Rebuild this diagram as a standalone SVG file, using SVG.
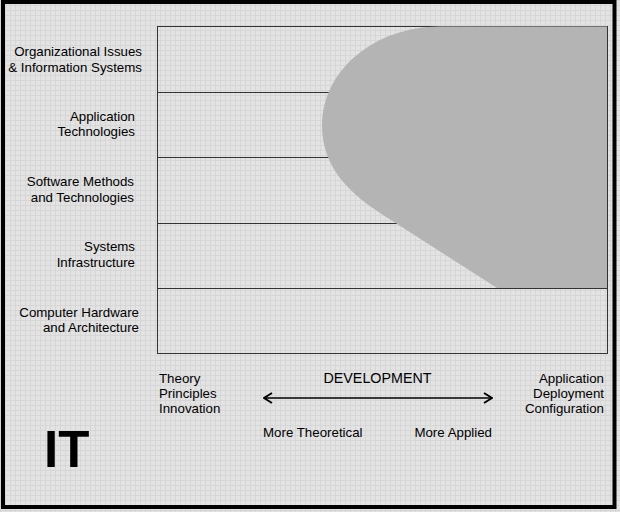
<svg xmlns="http://www.w3.org/2000/svg" width="620" height="512" viewBox="0 0 620 512">
<defs>
<pattern id="grid" width="5" height="5" patternUnits="userSpaceOnUse">
<rect width="5" height="5" fill="#e3e3e3"/>
<path d="M0 0.5H5M0.5 0V5" stroke="#d6d6d6" stroke-width="1"/>
</pattern>
<marker id="ah" viewBox="0 0 10 12" refX="9" refY="6" markerWidth="10" markerHeight="12" markerUnits="userSpaceOnUse" orient="auto-start-reverse">
<path d="M1 1L9 6L1 11" fill="none" stroke="#000" stroke-width="2"/>
</marker>
<style>
text{font-family:"Liberation Sans",Arial,sans-serif;font-size:13.3px;fill:#000}
.r{text-anchor:end}
.lane{fill:none;stroke:#333;stroke-width:1}
</style>
</defs>
<rect x="0" y="0" width="620" height="512" fill="url(#grid)"/>
<rect x="3" y="2" width="611.5" height="505" fill="none" stroke="#000" stroke-width="4"/>
<g id="chart">
<rect class="lane" x="157.5" y="26.5" width="450" height="327"/>
<path class="lane" d="M157.5 92.5H607.5M157.5 157.5H607.5M157.5 223.5H607.5M157.5 288.5H607.5"/>
</g>
<g id="region">
<path d="M440 26.5L607 26.5L607 288L497 288L380 213C340 187 322 160 322 125C322 70 375 26.5 440 26.5Z" fill="#b4b4b4"/>
</g>
<g id="row-labels">
<g id="n1"><text class="r" x="142" y="55.5">Organizational Issues</text><text class="r" x="142" y="71.5">&amp; Information Systems</text></g>
<g id="n2"><text class="r" x="135" y="120.5">Application</text><text class="r" x="135" y="135.5">Technologies</text></g>
<g id="n3"><text class="r" x="134" y="185.5">Software Methods</text><text class="r" x="134" y="201.5">and Technologies</text></g>
<g id="n4"><text class="r" x="135" y="250.5">Systems</text><text class="r" x="135" y="266.5">Infrastructure</text></g>
<g id="n5"><text class="r" x="139" y="316.5">Computer Hardware</text><text class="r" x="139" y="331.5">and Architecture</text></g>
</g>
<g id="axis-left"><text x="159" y="382.5">Theory</text><text x="159" y="397.5">Principles</text><text x="159" y="412.5">Innovation</text></g>
<g id="axis-right"><text class="r" x="604" y="382.5">Application</text><text class="r" x="604" y="397.5">Deployment</text><text class="r" x="604" y="412.5">Configuration</text></g>
<g id="axis-title"><text x="377.5" y="383" text-anchor="middle" style="font-size:14.3px">DEVELOPMENT</text></g>
<g id="connectors">
<line x1="264" y1="398" x2="492" y2="398" stroke="#000" stroke-width="1.5" marker-start="url(#ah)" marker-end="url(#ah)"/>
</g>
<g id="axis-ends"><text x="263" y="436.5">More Theoretical</text><text class="r" x="492" y="436.5">More Applied</text></g>
<g id="it"><text x="44" y="467" style="font-size:51px;font-weight:bold;fill:#000">IT</text></g>
</svg>
